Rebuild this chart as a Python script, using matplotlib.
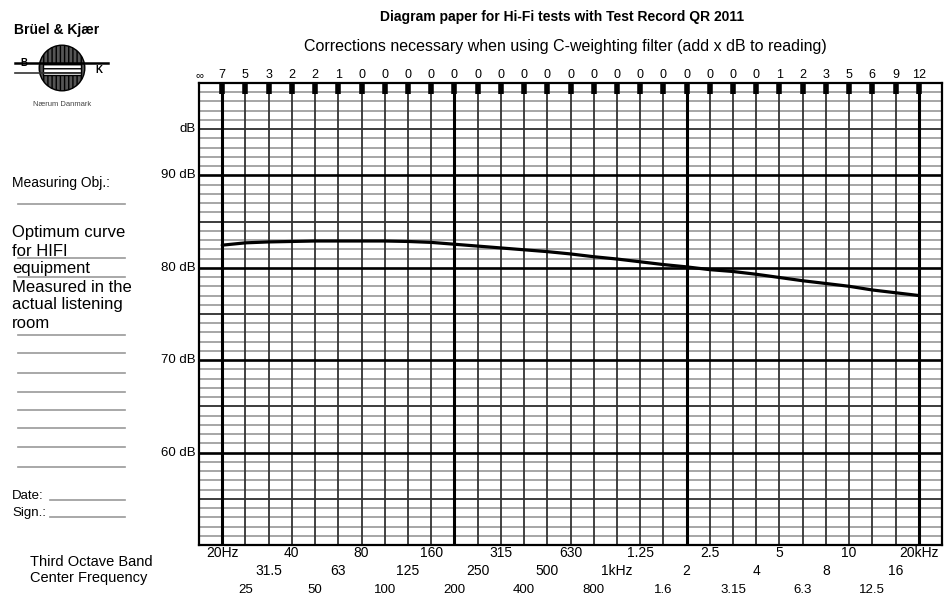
import numpy as np
import matplotlib.pyplot as plt
from matplotlib.lines import Line2D
from matplotlib.patches import Circle, Rectangle

plt.rcParams['font.family'] = ['Liberation Sans', 'DejaVu Sans']

# third octave bands 20 Hz .. 20 kHz, plotted at index 0..30
bands = ['20', '25', '31.5', '40', '50', '63', '80', '100', '125', '160',
         '200', '250', '315', '400', '500', '630', '800', '1k', '1.25k',
         '1.6k', '2k', '2.5k', '3.15k', '4k', '5k', '6.3k', '8k', '10k',
         '12.5k', '16k', '20k']
# C-weighting corrections printed along the top
c_corr = ['7', '5', '3', '2', '2', '1'] + ['0'] * 18 + ['1', '2', '3', '5', '6', '9', '12']
# optimum curve (dB) at each band
curve_db = [82.45, 82.7, 82.8, 82.85, 82.9, 82.9, 82.9, 82.9, 82.85, 82.75,
            82.55, 82.35, 82.15, 81.95, 81.75, 81.5, 81.2, 80.95, 80.65, 80.35,
            80.1, 79.8, 79.6, 79.3, 78.95, 78.6, 78.3, 78.0, 77.6, 77.3, 77.0]

row1_idx = [0, 3, 6, 9, 12, 15, 18, 21, 24, 27, 30]
row1_lbl = ['20Hz', '40', '80', '160', '315', '630', '1.25', '2.5', '5', '10', '20kHz']
row2_idx = [2, 5, 8, 11, 14, 17, 20, 23, 26, 29]
row2_lbl = ['31.5', '63', '125', '250', '500', '1kHz', '2', '4', '8', '16']
row3_idx = [1, 4, 7, 10, 13, 16, 19, 22, 25, 28]
row3_lbl = ['25', '50', '100', '200', '400', '800', '1.6', '3.15', '6.3', '12.5']

db_labels = {95: 'dB', 90: '90 dB', 80: '80 dB', 70: '70 dB', 60: '60 dB'}

W, H = 945, 612
fig = plt.figure(figsize=(W / 100, H / 100), dpi=100)
fig.patch.set_facecolor('white')


def fx(x):
    return x / W


def fy(y):
    return 1 - y / H


def ftext(x, y, s, **kw):
    kw.setdefault('va', 'center')
    fig.text(fx(x), fy(y), s, **kw)


def fline(x0, x1, y, color='#999999', lw=1.2):
    fig.add_artist(Line2D([fx(x0), fx(x1)], [fy(y), fy(y)], transform=fig.transFigure,
                          color=color, lw=lw))


ax = fig.add_axes([fx(199), fy(545), (942 - 199) / W, (545 - 83) / H])
ax.set_xlim(-1, 31)
ax.set_ylim(50, 100)
ax.set_xticks([])
ax.set_yticks([])
for s in ax.spines.values():
    s.set_linewidth(1.6)
    s.set_color('black')

# horizontal grid
for v in range(51, 100):
    if v % 10 == 0:
        ax.axhline(v, color='black', lw=1.9, zorder=3)
    elif v % 5 == 0:
        ax.axhline(v, color='#3c3c3c', lw=1.4, zorder=2)
    else:
        ax.axhline(v, color='#8e8e8e', lw=1.1, zorder=1)

# vertical band lines
x = np.arange(len(bands))
for i in x:
    if i % 10 == 0:
        ax.axvline(i, color='black', lw=2.2, zorder=3)
    else:
        ax.axvline(i, color='#333333', lw=1.3, zorder=2)

# markers under top edge
ax.vlines(x, 98.8, 100, color='black', lw=4, zorder=4)

# curve
ax.plot(x, curve_db, color='black', lw=2.3, zorder=5, solid_capstyle='round')

# correction numbers
xt = ax.get_xaxis_transform()
ax.text(-1, 1.017, '\u221e', transform=xt, ha='center', va='center', fontsize=8)
for i, c in zip(x, c_corr):
    ax.text(i, 1.017, c, transform=xt, ha='center', va='center', fontsize=9)

# frequency labels
for idx, lbl in zip(row1_idx, row1_lbl):
    ax.text(idx, -0.018, lbl, transform=xt, ha='center', va='center', fontsize=10)
for idx, lbl in zip(row2_idx, row2_lbl):
    ax.text(idx, -0.057, lbl, transform=xt, ha='center', va='center', fontsize=10)
for idx, lbl in zip(row3_idx, row3_lbl):
    ax.text(idx, -0.098, lbl, transform=xt, ha='center', va='center', fontsize=9.5)

# level labels
yt = ax.get_yaxis_transform()
for v, lbl in db_labels.items():
    ax.text(-0.004, v, lbl, transform=yt, ha='right', va='center', fontsize=9.5)

# header texts
ftext(562, 17, 'Diagram paper for Hi-Fi tests with Test Record QR 2011',
      ha='center', fontsize=10, fontweight='bold')
ftext(565, 47, 'Corrections necessary when using C-weighting filter (add x dB to reading)',
      ha='center', fontsize=11.5)

# logo block
ftext(14, 30, 'Br\u00fcel & Kj\u00e6r', ha='left', fontsize=10, fontweight='bold')
logo = fig.add_axes([fx(38), fy(92), 48 / W, 48 / H])
logo.set_xlim(-1, 1)
logo.set_ylim(-1, 1)
logo.set_aspect('equal')
logo.axis('off')
logo.add_patch(Circle((0, 0), 0.95, facecolor='#555555', edgecolor='black', lw=1,
                      hatch='||||', zorder=1))
logo.add_patch(Rectangle((-0.8, -0.28), 1.6, 0.45, facecolor='white', edgecolor='black',
                         lw=1, hatch='----', zorder=2))
fline(15, 108, 63, color='black', lw=1.8)
fline(15, 80, 73, color='#333333', lw=1.2)
ftext(24, 63, 'B', ha='center', fontsize=7, fontweight='bold')
ftext(99, 70, 'K', ha='center', fontsize=7, fontweight='bold')
ftext(62, 104, 'N\u00e6rum Danmark', ha='center', fontsize=5.5, color='#444444')

# form fields on the left
ftext(12, 183, 'Measuring Obj.:', ha='left', fontsize=10)
for yy in [204, 258, 277, 335, 353, 373, 392, 410, 428, 447, 467]:
    fline(18, 125, yy)
notes = ['Optimum curve', 'for HIFI', 'equipment', 'Measured in the',
         'actual listening', 'room']
for k, s in enumerate(notes):
    ftext(12, 233 + k * 18, s, ha='left', fontsize=12)
ftext(12, 496, 'Date:', ha='left', fontsize=9.5)
fline(50, 125, 500)
ftext(12, 513, 'Sign.:', ha='left', fontsize=9.5)
fline(50, 125, 517)
ftext(91, 562, 'Third Octave Band', ha='center', fontsize=10.5)
ftext(89, 578, 'Center Frequency', ha='center', fontsize=10.5)

fig.savefig('out.png', dpi=100, facecolor='white')
